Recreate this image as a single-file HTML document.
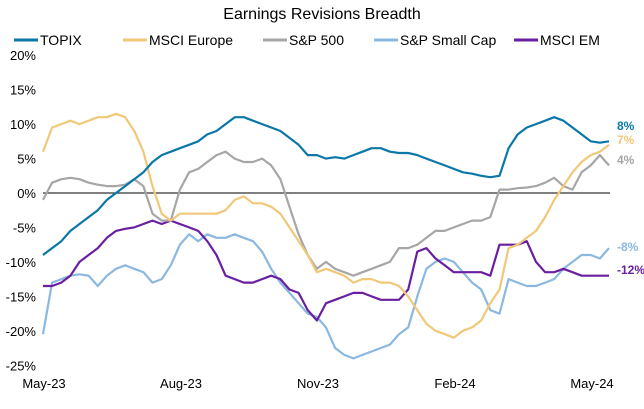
<!DOCTYPE html>
<html><head><meta charset="utf-8"><style>
body{margin:0;background:#fff;font-family:"Liberation Sans",sans-serif}
svg{display:block}
text{font-family:"Liberation Sans",sans-serif}
</style></head><body>
<svg id="c" width="644" height="409">
<text x="322" y="19" text-anchor="middle" font-size="16" fill="#000">Earnings Revisions Breadth</text>
<g id="legend"></g>
<g id="axes"></g>
<g id="series"></g>
<g id="endlabels"></g>
</svg>
<script>
const seriesNames=["TOPIX","MSCI Europe","S&P 500","S&P Small Cap","MSCI EM"];
const xTickLabels=["May-23","Aug-23","Nov-23","Feb-24","May-24"];
const yTicks=[20,15,10,5,0,-5,-10,-15,-20,-25];
const topix=[-9,-8,-7,-5.5,-4.5,-3.5,-2.5,-1,0,1,2,3,4.5,5.5,6,6.5,7,7.5,8.5,9,10,11,11,10.5,10,9.5,9,8,7,5.5,5.5,5,5.2,5,5.5,6,6.5,6.5,6,5.8,5.8,5.5,5,4.5,4,3.5,3,2.8,2.5,2.3,2.5,6.5,8.5,9.5,10,10.5,11,10.5,9.5,8.5,7.5,7.3,7.5];
const europe=[6,9.5,10,10.5,10,10.5,11,11,11.5,11,9,6,1,-3,-4,-3,-3,-3,-3,-3,-2.5,-1,-0.5,-1.5,-1.5,-2,-3,-5,-7,-9,-11.5,-11,-11.5,-12,-13,-12.5,-12.5,-13,-13,-13.5,-15,-17,-19,-20,-20.5,-21,-20,-19.5,-18.5,-16,-14,-8,-7.5,-6.5,-5.5,-3.5,-1,1,3,4.5,5.5,6,7];
const sp500=[-1,1.5,2,2.2,2,1.5,1.2,1,1,1.2,2,1,-3,-4,-4,0.5,3,3.5,4.5,5.5,6,5,4.5,4.5,5,4,2,-2,-6,-9,-11,-10,-11,-11.5,-12,-11.5,-11,-10.5,-10,-8,-8,-7.5,-6.5,-5.5,-5.5,-5,-4.5,-4,-4,-3.5,0.5,0.5,0.7,0.8,1,1.5,2.2,1,0.5,3,4,5.5,4];
const smallcap=[-20.5,-13,-12.5,-12,-11.8,-12,-13.5,-12,-11,-10.5,-11,-11.5,-13,-12.5,-10.5,-7.5,-6,-7,-6,-6.5,-6.5,-6,-6.5,-7,-8.5,-11,-13,-14.5,-16,-17.5,-18,-19.5,-22.5,-23.5,-24,-23.5,-23,-22.5,-22,-20.5,-19.5,-15,-11,-10,-9.5,-10,-11.5,-13,-14,-17,-17.5,-12.5,-13,-13.5,-13.5,-13,-12.5,-11,-10,-9,-9,-9.5,-8];
const em=[-13.5,-13.5,-13,-12,-10,-9,-8,-6.5,-5.5,-5.2,-5,-4.5,-4,-4.5,-4,-4.5,-5,-5.5,-7,-9,-12,-12.5,-13,-13,-12.5,-12,-12.5,-14,-14.5,-17,-18.5,-16,-15.5,-15,-14.5,-14.5,-15,-15.5,-15.5,-15.5,-14,-8.5,-8,-9.5,-10.5,-11.5,-11.5,-11.5,-11.5,-12,-7.5,-7.5,-7.5,-7,-10,-11.5,-11.5,-11,-11.5,-12,-12,-12,-12];
const endLabels=["8%","7%","4%","-8%","-12%"];
const colors=["#0a77a8","#f0c878","#a6a6a6","#8ab8e0","#6a1fa0"];
const allSeries=[topix,europe,sp500,smallcap,em];
const NS="http://www.w3.org/2000/svg";
const X0=43,X1=609,Y0=193,PX=6.89;
function y(v){return Y0-v*PX;}
function x(i,n){return X0+(X1-X0)*i/(n-1);}
function mk(t,a,p){const e=document.createElementNS(NS,t);for(const k in a)e.setAttribute(k,a[k]);p.appendChild(e);return e;}
const ax=document.getElementById('axes');
yTicks.forEach(v=>{const t=mk('text',{x:36,y:y(v)+5,'text-anchor':'end','font-size':13,fill:'#000'},ax);t.textContent=v+'%';

});
xTickLabels.forEach((l,i)=>{const t=mk('text',{x:44+i*137,y:388,'text-anchor':'middle','font-size':13,fill:'#000'},ax);t.textContent=l;

});
const zl=mk('line',{x1:X0,x2:X1+1,y1:y(0),y2:y(0),stroke:'#333','stroke-width':1.2},ax);


const sg=document.getElementById('series');
const order=[3,4,2,1,0];
order.forEach(s=>{const d=allSeries[s];const pts=d.map((v,i)=>x(i,d.length).toFixed(1)+','+y(v).toFixed(1)).join(' ');
const p=mk('polyline',{points:pts,fill:'none',stroke:colors[s],'stroke-width':2.2,'stroke-linejoin':'round'},sg);

});
const el=document.getElementById('endlabels');
const labY=[130,144,164,251,274];
endLabels.forEach((l,i)=>{const t=mk('text',{x:617,y:labY[i],'font-size':12,'font-weight':'bold',fill:colors[i]},el);t.textContent=l;

});
const lg=document.getElementById('legend');
const lx=[14,123,263,374,514];
seriesNames.forEach((n,i)=>{const l=mk('line',{x1:lx[i],x2:lx[i]+24,y1:40,y2:40,stroke:colors[i],'stroke-width':3},lg);


const t=mk('text',{x:lx[i]+26,y:45,'font-size':14,fill:'#000'},lg);t.textContent=n;

});
</script>
</body></html>
